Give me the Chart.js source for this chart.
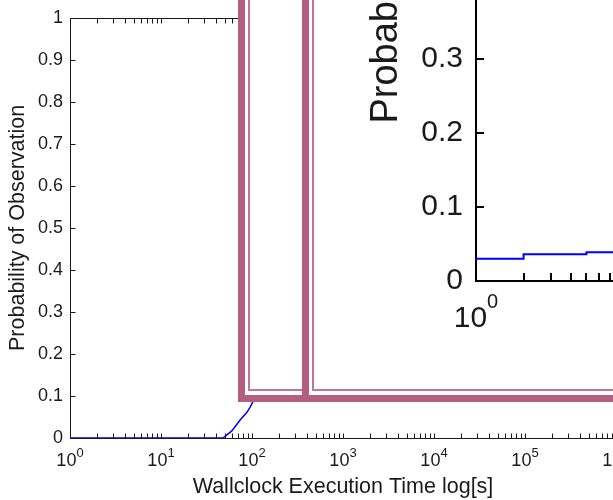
<!DOCTYPE html>
<html>
<head>
<meta charset="utf-8">
<script src="https://cdn.jsdelivr.net/npm/chart.js@4/dist/chart.umd.min.js"></script>
<style>
  html, body { margin: 0; padding: 0; background: #fff; overflow: hidden; }
  #stage { position: relative; width: 613px; height: 500px; overflow: hidden; background: #fff; }
  #main { position: absolute; left: 0; top: 0; }
  .frame { position: absolute; box-sizing: border-box; border: 7px solid #b45f82; background: #fff; }
  .frame .inner { position: absolute; left: 3px; bottom: 4px; right: -60px; top: -60px;
                  border-left: 2px solid #c47498; border-bottom: 2px solid #c47498; }
  #zoomA { left: 238px; top: -40px; width: 460px; height: 442px; }
  #zoomB { left: 302px; top: -40px; width: 400px; height: 442px; }
  #inset { position: absolute; left: 340px; top: -490px; }
</style>
</head>
<body>
<div id="stage">
  <canvas id="main" width="640" height="500"></canvas>
  <div class="frame" id="zoomA"><div class="inner"></div></div>
  <div class="frame" id="zoomB"><div class="inner"></div></div>
  <canvas id="inset" width="320" height="835"></canvas>
</div>
<script>
// Cumulative probability of observation vs wallclock execution time (s)
const mainTimes = [1, 48, 60, 74, 88, 95, 114];
const mainProb  = [0, 0, 0.017, 0.043, 0.061, 0.073, 0.106];

// Magnified view of the start of the curve
const insetTimes = [1, 2, 5, 10];
const insetProb  = [0.03, 0.036, 0.039, 0.039];

// Axis ticks
const xTickExponents = [0, 1, 2, 3, 4, 5, 6];
const insetXTickExponents = [0];
const yTicks = [0, 0.1, 0.2, 0.3, 0.4, 0.5, 0.6, 0.7, 0.8, 0.9, 1];

const Y_TITLE = 'Probability of Observation';
const FONT = "'Liberation Sans', Arial, Helvetica, sans-serif";
Chart.defaults.font.family = FONT;
Chart.defaults.color = '#1a1a1a';

function logTickValues(min, max) {
  const vals = [];
  const e0 = Math.floor(Math.log10(min)), e1 = Math.ceil(Math.log10(max));
  for (let e = e0; e < e1; e++) {
    for (let k = 1; k < 10; k++) {
      const v = k * Math.pow(10, e);
      if (v >= min && v <= max) vals.push(v);
    }
  }
  vals.push(max);
  return vals;
}

// Box axes with inward tick marks and 10^n labels
function makeAxesPlugin(cfg) {
  const snap = p => cfg.lineWidth % 2 ? Math.round(p) + 0.5 : Math.round(p);
  return {
    id: 'matlabAxes',
    beforeDatasetsDraw(chart) {
      const { ctx, chartArea: a, scales: { x, y } } = chart;
      const L = snap(a.left), R = snap(a.right), T = snap(a.top), B = snap(a.bottom);
      ctx.save();
      ctx.strokeStyle = cfg.color;
      ctx.lineWidth = cfg.lineWidth;
      ctx.beginPath();
      ctx.moveTo(L, T); ctx.lineTo(L, B); ctx.lineTo(R, B); ctx.lineTo(R, T); ctx.closePath();
      ctx.stroke();
      ctx.beginPath();
      for (const v of logTickValues(x.min, x.max)) {
        const px = snap(x.getPixelForValue(v));
        ctx.moveTo(px, B); ctx.lineTo(px, B - cfg.tickLen);
        ctx.moveTo(px, T); ctx.lineTo(px, T + cfg.tickLen);
      }
      for (const t of y.ticks) {
        const py = snap(y.getPixelForValue(t.value));
        ctx.moveTo(L, py); ctx.lineTo(L + cfg.tickLen, py);
        ctx.moveTo(R, py); ctx.lineTo(R - cfg.tickLen, py);
      }
      ctx.stroke();
      ctx.restore();
    },
    afterDraw(chart) {
      const { ctx, chartArea: a, scales: { x } } = chart;
      ctx.save();
      ctx.fillStyle = cfg.textColor;
      ctx.textBaseline = 'middle';
      ctx.textAlign = 'left';
      const baseFont = cfg.baseFont + 'px ' + FONT;
      const supFont = cfg.supFont + 'px ' + FONT;
      for (const e of cfg.exps) {
        const px = x.getPixelForValue(Math.pow(10, e));
        ctx.font = baseFont;
        const wb = ctx.measureText('10').width;
        ctx.font = supFont;
        const ws = ctx.measureText(String(e)).width;
        const x0 = px - (wb + ws) / 2;
        ctx.font = baseFont;
        ctx.fillText('10', x0, a.bottom + cfg.baseDy);
        ctx.font = supFont;
        ctx.fillText(String(e), x0 + wb, a.bottom + cfg.supDy);
      }
      if (cfg.yTitle) {
        // rotated y-axis title beside the magnified axis
        ctx.font = cfg.yTitle.size + 'px ' + FONT;
        ctx.textAlign = 'center';
        ctx.translate(cfg.yTitle.x, (a.top + a.bottom) / 2 + cfg.yTitle.dy);
        ctx.rotate(-Math.PI / 2);
        ctx.fillText(Y_TITLE, 0, 0);
      }
      ctx.restore();
    }
  };
}

function setYTicks(s) { s.ticks = yTicks.map(v => ({ value: v })); }
const plainNumber = v => String(Number(v.toFixed(2)));

// Full range chart
new Chart(document.getElementById('main'), {
  type: 'line',
  data: {
    datasets: [{
      data: mainTimes.map((t, i) => ({ x: t, y: mainProb[i] })),
      borderColor: '#0000ff',
      borderWidth: 1.5,
      pointRadius: 0,
      tension: 0
    }]
  },
  options: {
    responsive: false,
    animation: false,
    devicePixelRatio: 1,
    layout: { padding: { left: 0, top: 15, right: 24, bottom: 0 } },
    plugins: { legend: { display: false }, tooltip: { enabled: false } },
    scales: {
      x: {
        type: 'logarithmic', min: 1, max: 1e6,
        grid: { display: false, drawTicks: false },
        border: { display: false },
        ticks: { display: false },
        title: { display: true, text: 'Wallclock Execution Time log[s]',
                 font: { size: 21.5 }, color: '#1a1a1a', padding: { top: 0, bottom: 0 } },
        afterFit: s => { s.height = 62; }
      },
      y: {
        type: 'linear', min: 0, max: 1,
        afterBuildTicks: setYTicks,
        grid: { display: false, drawTicks: false },
        border: { display: false },
        ticks: { font: { size: 18 }, padding: 7, color: '#1a1a1a', callback: plainNumber },
        title: { display: true, text: Y_TITLE,
                 font: { size: 21.5 }, color: '#1a1a1a', padding: { top: 5, bottom: 0 } },
        afterFit: s => { s.width = 70; }
      }
    }
  },
  plugins: [makeAxesPlugin({ color: '#1a1a1a', textColor: '#1a1a1a', lineWidth: 1, tickLen: 5,
                             exps: xTickExponents, baseFont: 18, supFont: 13, baseDy: 23.5, supDy: 15 })]
});

// Magnified chart
new Chart(document.getElementById('inset'), {
  type: 'line',
  data: {
    datasets: [{
      data: insetTimes.map((t, i) => ({ x: t, y: insetProb[i] })),
      borderColor: '#0000ff',
      borderWidth: 2,
      pointRadius: 0,
      stepped: 'before'
    }]
  },
  options: {
    responsive: false,
    animation: false,
    devicePixelRatio: 1,
    layout: { padding: { left: 0, top: 24, right: 26, bottom: 0 } },
    plugins: { legend: { display: false }, tooltip: { enabled: false } },
    scales: {
      x: {
        type: 'logarithmic', min: 1, max: 10,
        grid: { display: false, drawTicks: false },
        border: { display: false },
        ticks: { display: false },
        afterFit: s => { s.height = 64; }
      },
      y: {
        type: 'linear', min: 0, max: 1,
        afterBuildTicks: setYTicks,
        grid: { display: false, drawTicks: false },
        border: { display: false },
        ticks: { font: { size: 30 }, padding: 13, color: '#1a1a1a', callback: plainNumber },
        afterFit: s => { s.width = 136; }
      }
    }
  },
  plugins: [makeAxesPlugin({ color: '#000', textColor: '#1a1a1a', lineWidth: 2, tickLen: 8,
                             exps: insetXTickExponents, baseFont: 30, supFont: 20, baseDy: 37.5, supDy: 21.5,
                             yTitle: { size: 38, x: 47, dy: -5 } })]
});
</script>
</body>
</html>
